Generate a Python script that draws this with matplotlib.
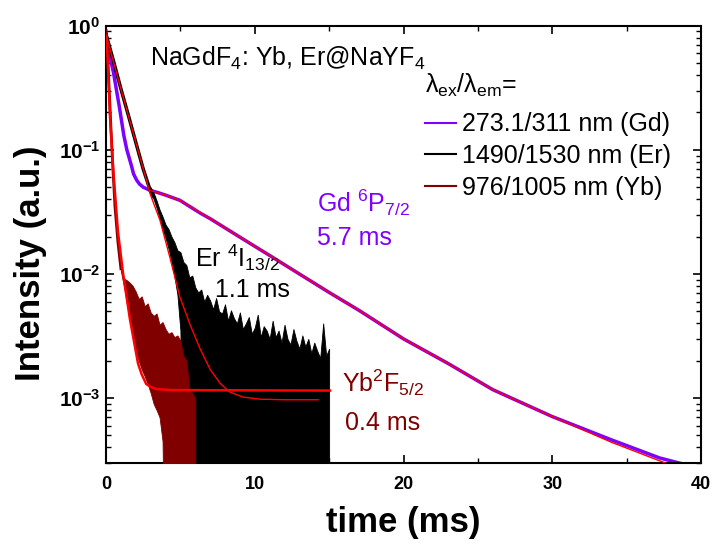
import numpy as np
import matplotlib
matplotlib.use("Agg")
import matplotlib.pyplot as plt
from matplotlib.ticker import LogLocator, NullFormatter

plt.rcParams["font.family"] = ["Liberation Sans", "DejaVu Sans"]
plt.rcParams["mathtext.fontset"] = "custom"
plt.rcParams["mathtext.rm"] = "Liberation Sans"
plt.rcParams["mathtext.it"] = "Liberation Sans:italic"
plt.rcParams["mathtext.bf"] = "Liberation Sans:bold"
plt.rcParams["mathtext.default"] = "regular"

PURPLE = "#8000ff"
DARKRED = "#800000"
RED = "#ff0000"
FLOOR = 1e-5  # counts that dropped to zero end up below the axis

# Gd 6P7/2 decay, 273.1/311 nm
gd_t = [0, 0.25, 0.5, 0.9, 1.2, 1.4, 1.7, 1.85, 2.06, 2.25, 2.5, 2.96, 3.5, 4.0, 4.97, 6.32,
        7.0, 9.0, 11.0, 13.0, 15.0, 17.0, 20.0, 23.0, 26.0, 30.0, 34.0, 37.2, 40.0]
gd_i = [0.85, 0.57, 0.42, 0.22, 0.13, 0.10, 0.075, 0.064, 0.057, 0.053, 0.050, 0.0472, 0.0452,
        0.0432, 0.0392, 0.031, 0.0279, 0.0198, 0.0141, 0.0100, 0.0071, 0.0051, 0.0030, 0.0019,
        0.00117, 0.00071, 0.00046, 0.00033, 0.00027]
gd_fit_t = [3.0, 4.0, 4.97, 7.0, 9.0, 11.0, 13.0, 15.0, 17.0, 20.0, 23.0, 26.0, 30.0, 34.0, 37.6]
gd_fit_i = [0.047, 0.0432, 0.0392, 0.0279, 0.0198, 0.0141, 0.0100, 0.0071, 0.0051, 0.0030,
            0.0019, 0.00117, 0.00071, 0.00044, 0.00030]

# Er 4I13/2 decay, 1490/1530 nm: clean start, then noisy counts sampled every 0.2 ms
er_t = [0, 0.5, 1.0, 1.5, 2.0, 2.5, 3.0, 3.2]
er_i = [0.85, 0.52, 0.31, 0.19, 0.115, 0.07, 0.046, 0.042]
er_noise_t0, er_noise_dt = 3.0, 0.2
er_top = [0.050, 0.045, 0.039, 0.033, 0.029, 0.025, 0.023, 0.020, 0.018, 0.0155, 0.0150,
          0.0125, 0.0118, 0.0094, 0.0097, 0.0078, 0.0071, 0.0075, 0.0060, 0.0068, 0.0061,
          0.0052, 0.0064, 0.0050, 0.0048, 0.0057, 0.0042, 0.0051, 0.0044, 0.0040, 0.0049,
          0.0036, 0.0040, 0.0045, 0.0033, 0.0037, 0.0047, 0.0031, 0.0038, 0.0035, 0.0030,
          0.0042, 0.0031, 0.0035, 0.0028, 0.0039, 0.0030, 0.0027, 0.0036, 0.0029, 0.0025,
          0.0032, 0.0026, 0.0030, 0.0023, 0.0028, 0.0024, 0.0021, 0.0040, 0.0022, 0.0025]
er_bottom = [0.046, 0.040, 0.034, 0.028, 0.023, 0.0195, 0.016, 0.0125, 0.0095, 0.0068, 0.0035]
er_bottom = er_bottom + [FLOOR] * (len(er_top) - len(er_bottom))
er_fit_t = [0, 1, 2, 3, 3.63, 4.3, 4.97, 5.65, 6.32, 7.0, 7.66, 8.3, 9.2, 10.35, 12.0, 14.25]
er_fit_i = [0.85, 0.31, 0.115, 0.043, 0.027, 0.0135, 0.0065, 0.0039, 0.0025, 0.0017,
            0.00132, 0.00112, 0.00102, 0.00098, 0.00097, 0.00097]

# Yb 2F5/2 decay, 976/1005 nm
yb_t = [0, 0.15, 0.3, 0.45, 0.6, 0.8, 1.0]
yb_i = [0.92, 0.45, 0.18, 0.075, 0.035, 0.018, 0.011]
yb_noise_t0, yb_noise_dt = 1.0, 0.2
yb_top = [0.0110, 0.0092, 0.0089, 0.0085, 0.0080, 0.0072, 0.0063, 0.0066, 0.0055, 0.0058,
          0.0049, 0.0046, 0.0048, 0.0039, 0.0041, 0.0036, 0.0033, 0.0034, 0.0031, 0.0032,
          0.0029, 0.0022, 0.0020, 0.0012, 0.0011, 0.0010]
yb_bottom = [0.0105, 0.0080, 0.0058, 0.0042, 0.0031, 0.0024, 0.0020, 0.0017, 0.0015, 0.0013,
             0.0011, 0.0009, 0.0008, 0.0007, 0.00045]
yb_bottom = yb_bottom + [FLOOR] * (len(yb_top) - len(yb_bottom))
yb_fit_t = [0.05, 0.27, 0.5, 0.8, 1.14, 1.61, 2.15, 2.4, 2.7, 3.0, 3.4, 4.5, 15.06]
yb_fit_i = [0.8, 0.18, 0.065, 0.022, 0.0102, 0.0043, 0.0019, 0.00155, 0.0013, 0.00123,
            0.00118, 0.00116, 0.00115]

fig = plt.figure(figsize=(7.15, 5.46), dpi=100)
ax = fig.add_axes([0.1483, 0.152, 0.8321, 0.8009])

# data
ax.plot(gd_t, gd_i, color=PURPLE, lw=2.5, label="273.1/311 nm (Gd)", zorder=2)
ax.plot(er_t, er_i, color="black", lw=2.5, label="1490/1530 nm (Er)", zorder=3)
er_nt = er_noise_t0 + er_noise_dt * np.arange(len(er_top))
ax.fill_between(er_nt, er_bottom, er_top, color="black", lw=0.6, edgecolor="black", zorder=3)
ax.plot(yb_t, yb_i, color=DARKRED, lw=2.0, label="976/1005 nm (Yb)", zorder=4)
yb_nt = yb_noise_t0 + yb_noise_dt * np.arange(len(yb_top))
ax.fill_between(yb_nt, yb_bottom, yb_top, color=DARKRED, lw=0.6, edgecolor=DARKRED, zorder=4)

# fits
ax.plot(gd_fit_t, gd_fit_i, color=RED, lw=1.0, zorder=5)
ax.plot(er_fit_t, er_fit_i, color=RED, lw=1.0, zorder=5)
ax.plot(yb_fit_t, yb_fit_i, color=RED, lw=1.8, zorder=5)

ax.set_yscale("log")
ax.set_xlim(0, 40)
ax.set_ylim(3.0e-4, 1.0)

ax.set_xticks([0, 10, 20, 30, 40])
ax.set_xticks([5, 15, 25, 35], minor=True)
ax.set_xticklabels(["0", "10", "20", "30", "40"], fontweight="bold")
ax.set_yticks([1e-3, 1e-2, 1e-1, 1])
ax.set_yticklabels([r"$\mathbf{10^{-3}}$", r"$\mathbf{10^{-2}}$",
                    r"$\mathbf{10^{-1}}$", r"$\mathbf{10^{0}}$"])
ax.yaxis.set_minor_locator(LogLocator(base=10, subs=np.arange(2, 10)))
ax.yaxis.set_minor_formatter(NullFormatter())

ax.tick_params(which="both", direction="in", top=True, right=True)
ax.tick_params(which="major", length=6, width=1.2)
ax.tick_params(which="minor", length=3.5, width=1.0)
ax.tick_params(axis="x", pad=9.5, labelsize=13)
ax.tick_params(axis="y", pad=4, labelsize=15)
for sp in ax.spines.values():
    sp.set_linewidth(1.5)

ax.set_xlabel("time (ms)", fontsize=25, fontweight="bold")
ax.set_ylabel("Intensity (a.u.)", fontsize=25, fontweight="bold")
ax.xaxis.set_label_coords(0.5, -0.098)
ax.yaxis.set_label_coords(-0.099, 0.456)

# annotations
ax.text(2.96, 0.476, r"NaGdF$_4$: Yb, Er@NaYF$_4$", fontsize=18, va="baseline")
ax.text(21.45, 0.287, r"λ$_{ex}$/λ$_{em}$=", fontsize=18, va="baseline")
ax.text(14.16, 0.0318, r"Gd $^{6}$P$_{7/2}$", fontsize=18, color=PURPLE, va="baseline")
ax.text(14.16, 0.0172, "5.7 ms", fontsize=18, color=PURPLE, va="baseline")
ax.text(5.98, 0.01147, r"Er $^{4}$I$_{13/2}$", fontsize=18, va="baseline")
ax.text(7.33, 0.00658, "1.1 ms", fontsize=18, va="baseline")
ax.text(15.85, 0.00113, r"Yb$^{2}$F$_{5/2}$", fontsize=18, color=DARKRED, va="baseline")
ax.text(16.07, 0.000556, "0.4 ms", fontsize=18, color=DARKRED, va="baseline")

leg = ax.legend(loc="upper left", bbox_to_anchor=(0.536, 0.802), frameon=False, fontsize=18,
                handlelength=1.25, handletextpad=0.25, labelspacing=0.31, borderpad=0,
                borderaxespad=0)
for line in leg.get_lines():
    line.set_linewidth(1.5)

fig.savefig("out.png", dpi=100)
